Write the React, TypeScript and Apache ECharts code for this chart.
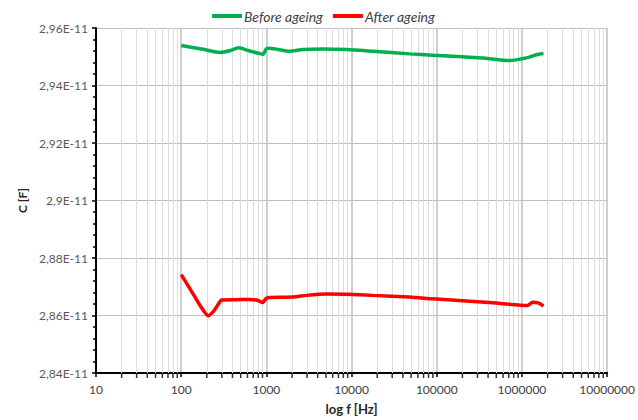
import React, { useEffect, useRef } from "react";
import * as echarts from "echarts";

const beforeFreq = [100, 180, 284, 380, 475, 620, 837, 920, 1000, 1100, 1880, 2670, 4580, 8770, 17700, 48000, 89300, 344000, 713000, 1130000, 1480000, 1790000];
const beforeC = [2.9539, 2.9526, 2.9515, 2.9522, 2.9531, 2.9521, 2.9511, 2.9509, 2.9528, 2.953, 2.9519, 2.9525, 2.9527, 2.9525, 2.9519, 2.951, 2.9505, 2.9496, 2.9487, 2.9496, 2.9507, 2.9511];

const afterFreq = [100, 140, 175, 207, 242, 272, 298, 450, 638, 800, 900, 1000, 1100, 2050, 2950, 5070, 8690, 17700, 48000, 89300, 451000, 1160000, 1330000, 1550000, 1790000];
const afterC = [2.8742, 2.8672, 2.8625, 2.8599, 2.8616, 2.8639, 2.8654, 2.8655, 2.8656, 2.8652, 2.8645, 2.866, 2.8663, 2.8664, 2.867, 2.8675, 2.8674, 2.867, 2.8664, 2.8658, 2.8644, 2.8635, 2.8646, 2.8644, 2.8633];

const seriesNames = ["Before ageing", "After ageing"];
const xMin = 10;
const xMax = 10000000;
const yMin = 2.84;
const yMax = 2.96;
const yStep = 0.02;

// minor log positions (2..9 × each decade)
const minorX: number[] = [];
for (let d = xMin; d < xMax; d *= 10) {
  for (let k = 2; k <= 9; k++) minorX.push(d * k);
}

const FONT = "Lato, 'Open Sans', sans-serif";

export default function App() {
  const ref = useRef<HTMLDivElement>(null);
  useEffect(() => {
    if (!ref.current) return;
    const chart = echarts.init(ref.current, undefined, { renderer: "svg" });
    chart.setOption({
      animation: false,
      backgroundColor: "#ffffff",
      textStyle: { fontFamily: FONT },
      legend: {
        data: seriesNames,
        top: 4,
        left: 207,
        icon: "rect",
        itemWidth: 30,
        itemHeight: 4,
        itemGap: 10,
        textStyle: { fontStyle: "italic", fontSize: 14, color: "#404040", fontFamily: FONT, padding: [0, 0, 0, -3] },
      },
      grid: { left: 96, right: 30, top: 28, bottom: 42, show: false },
      xAxis: {
        type: "log",
        logBase: 10,
        min: xMin,
        max: xMax,
        name: "log f [Hz]",
        nameLocation: "middle",
        nameGap: 29,
        nameTextStyle: { fontWeight: "bold", fontSize: 13, color: "#262626", fontFamily: FONT },
        axisLine: { show: true, onZero: false, lineStyle: { color: "#000", width: 2 } },
        axisTick: { show: true, length: 4, lineStyle: { color: "#000", width: 1.5 } },
        axisLabel: {
          fontSize: 12,
          color: "#404040",
          margin: 10,
          formatter: (v: number) => String(Math.round(v)),
        },
        splitLine: { show: true, lineStyle: { color: "#bfbfbf", width: 1.5 } },
      },
      yAxis: {
        type: "value",
        min: yMin,
        max: yMax,
        interval: yStep,
        name: "C [F]",
        nameLocation: "middle",
        nameGap: 52,
        nameTextStyle: { fontWeight: "bold", fontSize: 12, color: "#262626", fontFamily: FONT },
        axisLine: { show: true, lineStyle: { color: "#000", width: 2 } },
        axisTick: { show: true, length: 4, lineStyle: { color: "#000", width: 1.5 } },
        minorTick: { show: true, splitNumber: 5, length: 3, lineStyle: { color: "#000", width: 1.5 } },
        axisLabel: {
          fontSize: 12,
          color: "#595959",
          margin: 8,
          formatter: (v: number) => String(Math.round(v * 100) / 100).replace(".", ",") + "E-11",
        },
        splitLine: { show: true, lineStyle: { color: "#bfbfbf", width: 1 } },
      },
      series: [
        {
          name: "_grid",
          type: "line",
          data: [],
          silent: true,
          z: 1,
          markLine: {
            silent: true,
            symbol: "none",
            label: { show: false },
            lineStyle: { color: "#dcdcdc", width: 1, type: "solid" },
            data: minorX.map((x) => ({ xAxis: x })),
          },
        },
        {
          name: "_ticks",
          type: "scatter",
          silent: true,
          clip: false,
          z: 4,
          symbol: "rect",
          symbolSize: [1.5, 4],
          symbolOffset: [0, 3],
          itemStyle: { color: "#000" },
          data: minorX.map((x) => [x, yMin]),
        },
        {
          name: seriesNames[0],
          type: "line",
          data: beforeFreq.map((f, i) => [f, beforeC[i]]),
          showSymbol: false,
          smooth: 0.2,
          z: 5,
          lineStyle: { color: "#00b050", width: 3.5 },
          itemStyle: { color: "#00b050" },
        },
        {
          name: seriesNames[1],
          type: "line",
          data: afterFreq.map((f, i) => [f, afterC[i]]),
          showSymbol: false,
          smooth: 0.2,
          z: 5,
          lineStyle: { color: "#ff0000", width: 3.5 },
          itemStyle: { color: "#ff0000" },
        },
      ],
    });
    return () => chart.dispose();
  }, []);
  return (
    <div
      ref={ref}
      style={{ position: "absolute", left: 0, top: 0, width: 638, height: 420, background: "#fff" }}
    />
  );
}
